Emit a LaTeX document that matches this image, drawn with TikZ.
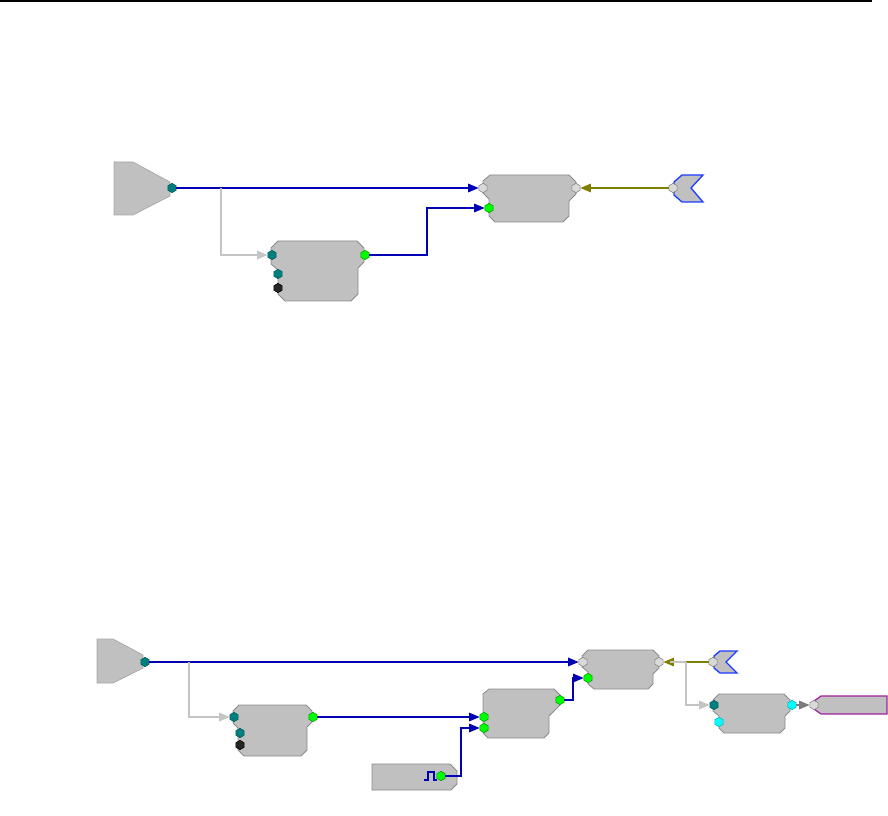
\documentclass[tikz,border=0pt]{standalone}
\usetikzlibrary{arrows.meta,shapes.geometric}
\definecolor{blkfill}{HTML}{C0C0C0}
\definecolor{blkedge}{HTML}{8A8A8A}
\definecolor{wire}{HTML}{0000B4}
\definecolor{tealp}{HTML}{007F7F}
\definecolor{olivew}{HTML}{808000}
\definecolor{lgrey}{HTML}{C4C4C4}
\definecolor{dgrey}{HTML}{7C7C7C}
\definecolor{purp}{HTML}{A020A0}
\definecolor{uedge}{HTML}{1E3CFF}
\definecolor{cyanp}{HTML}{00FFFF}
\begin{document}
\begin{tikzpicture}[x=0.75pt,y=-0.75pt,
  block/.style={fill=blkfill,draw=blkedge,line width=0.6pt,line join=miter},
  srcblock/.style={fill=blkfill,draw=black!35,line width=0.5pt},
  ublock/.style={fill=blkfill,draw=uedge,line width=1pt},
  oblock/.style={fill=blkfill,draw=purp,line width=0.9pt},
  port/.style={regular polygon,regular polygon sides=6,shape border rotate=90,minimum size=7pt,inner sep=0pt,line width=0.4pt},
  tport/.style={port,fill=tealp,draw=tealp!70!black},
  gport/.style={port,fill=green,draw=green!60!black},
  cport/.style={port,fill=cyanp,draw=cyanp!70!black},
  kport/.style={port,fill=black!85,draw=black},
  nport/.style={port,fill=black!15,draw=black!50},
  tip/.style={-{Triangle[length=8pt,width=6.5pt]}},
  bwire/.style={tip,draw=wire,line width=0.8pt},
  gwire/.style={tip,draw=lgrey,line width=0.8pt},
  owire/.style={tip,draw=olivew,line width=0.8pt},
  dwire/.style={tip,draw=dgrey,line width=0.8pt},
  plain/.style={draw=lgrey,line width=0.8pt}
]
\useasboundingbox (0,0) rectangle (888,816);
% top rule
\draw[line width=1.4pt] (0,1) -- (872,1);

% ================= TOP DIAGRAM =================
\path[srcblock] (114,162) -- (133,162) -- (170,182) -- (170,196) -- (133,215) -- (114,215) -- cycle;
\node[tport] (s1out) at (172,188) {};

\path[block] (490,175) -- (569,175) -- (576,182) -- (576,194) -- (569,201) -- (569,216) -- (563,222)
  -- (495,222) -- (489,216) -- (489,199) -- (483,193) -- (483,181) -- cycle;
\node[nport] (min1) at (483,188) {};
\node[gport] (min2) at (489,208) {};
\node[nport] (mout) at (576,188) {};

\path[ublock] (682,175) -- (703,175) -- (691,188) -- (703,202) -- (682,202) -- (674,195) -- (674,182) -- cycle;
\node[nport] (u1) at (673,188) {};

\path[block] (278,241) -- (357,241) -- (364,248) -- (364,262) -- (358,268) -- (358,294) -- (351,301)
  -- (285,301) -- (278,294) -- (278,270) -- (271,264) -- (271,248) -- cycle;
\node[tport] (ain1) at (272,255) {};
\node[tport] (ain2) at (278,274) {};
\node[kport] (ain3) at (278,288) {};
\node[gport] (aout) at (365,255) {};

\coordinate (br1) at (221,188);
\coordinate (k1) at (427,230);

\draw[bwire] (s1out) -- (min1);
\draw[gwire] (br1) |- (ain1);
\draw[bwire] (aout) -- (aout -| k1) |- (min2);
\draw[owire] (u1) -- (mout);

% ================= BOTTOM DIAGRAM =================
\path[srcblock] (97,639) -- (113,639) -- (143,655) -- (143,668) -- (113,683) -- (97,683) -- cycle;
\node[tport] (s2out) at (145,662) {};

% block B1
\path[block] (239,705) -- (306,705) -- (312,711) -- (312,722) -- (307,727) -- (307,750) -- (301,756)
  -- (244,756) -- (238,750) -- (238,728) -- (233,723) -- (233,711) -- cycle;
\node[tport] (b1in1) at (234,717) {};
\node[tport] (b1in2) at (240,733) {};
\node[kport] (b1in3) at (240,745) {};
\node[gport] (b1out) at (313,717) {};

% block B2
\path[block] (489,689) -- (554,689) -- (560,695) -- (560,705) -- (549,716) -- (549,733) -- (544,738)
  -- (488,738) -- (483,733) -- (483,694) -- cycle;
\node[gport] (b2in1) at (484,717) {};
\node[gport] (b2in2) at (484,728) {};
\node[gport] (b2out) at (560,700) {};

% block B3
\path[block] (588,650) -- (653,650) -- (659,656) -- (659,668) -- (653,674) -- (653,684) -- (648,689)
  -- (594,689) -- (588,684) -- (588,672) -- (582,667) -- (582,656) -- cycle;
\node[nport] (b3in1) at (583,662) {};
\node[gport] (b3in2) at (588,678) {};
\node[nport] (b3out) at (659,662) {};

% U2
\path[ublock] (720,651) -- (737,651) -- (726,662) -- (737,673) -- (720,673) -- (714,668) -- (714,656) -- cycle;
\node[nport] (u2) at (713,662) {};

% block B4
\path[block] (719,694) -- (784,694) -- (790,700) -- (790,711) -- (785,716) -- (785,728) -- (780,733)
  -- (724,733) -- (719,728) -- (719,716) -- (713,711) -- (713,700) -- cycle;
\node[tport] (b4in1) at (714,705) {};
\node[cport] (b4in2) at (719,722) {};
\node[cport] (b4out) at (792,705) {};

% output shape
\path[oblock] (821,696) -- (887,696) -- (887,714) -- (821,714) -- (814,709) -- (814,701) -- cycle;
\node[nport] (o1) at (814,705) {};

% pulse block
\path[block] (372,764) -- (450,764) -- (457,771) -- (457,784) -- (451,790) -- (372,790) -- cycle;
\draw[wire,line width=0.8pt] (424,780) -- (428,780) -- (428,772) -- (434,772) -- (434,780) -- (437,780);
\node[gport] (pout) at (441,776) {};

\coordinate (br2) at (189,662);
\coordinate (k3) at (461,750);
\coordinate (k4) at (573,690);
\coordinate (j0) at (670,662);
\coordinate (j1) at (686,662);

\draw[bwire] (s2out) -- (b3in1);
\draw[gwire] (br2) |- (b1in1);
\draw[bwire] (b1out) -- (b2in1);
\draw[bwire] (pout) -- (pout -| k3) |- (b2in2);
\draw[bwire] (b2out) -- (b2out -| k4) |- (b3in2);
\draw[owire] (u2) -- (b3out);
\draw[plain] (j0) -- (j1);
\draw[gwire] (j1) |- (b4in1);
\draw[dwire] (b4out) -- (o1);
\end{tikzpicture}
\end{document}
